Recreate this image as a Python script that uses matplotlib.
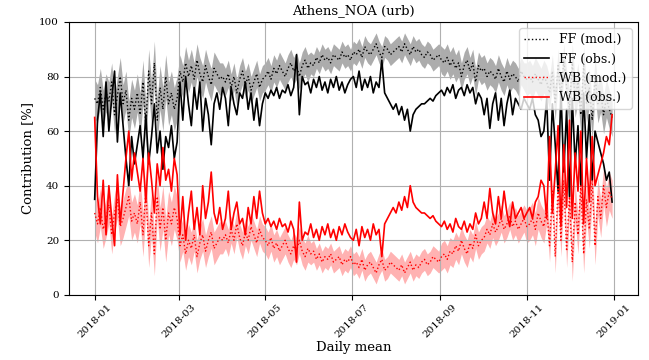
import matplotlib
matplotlib.use("Agg")
import matplotlib.pyplot as plt
import matplotlib.dates as mdates
import numpy as np
import pandas as pd

plt.rcParams['font.family'] = ['DejaVu Serif']

# values every second day, 2018-01-01 .. 2018-12-31
dates = pd.date_range('2018-01-01', periods=183, freq='2D')

ff_obs = np.array([
    # Jan
    35, 64, 74, 58, 78, 60, 72, 82, 56, 74, 62, 50, 40, 58, 48, 55,
    # Feb
    62, 50, 66, 48, 58, 70, 52, 60, 46, 58, 54, 62, 50, 56,
    # Mar
    78, 64, 80, 70, 62, 76, 68, 78, 60, 72, 66, 55, 70, 74, 68, 76,
    # Apr
    72, 62, 76, 70, 66, 74, 72, 78, 68, 74, 64, 72, 62, 70,
    # May
    74, 72, 75, 73, 76, 72, 75, 74, 77, 73, 76, 88, 66, 80, 77, 78,
    # Jun
    74, 79, 76, 80, 75, 78, 74, 79, 76, 80, 75, 78, 74, 77, 79,
    # Jul
    80, 76, 82, 75, 79, 76, 80, 74, 78, 76, 86, 74, 72, 70, 68,
    # Aug
    70, 66, 69, 64, 68, 60, 66, 68, 69, 70, 70, 71, 72, 71, 73, 74,
    # Sep
    75, 73, 76, 74, 77, 72, 75, 76, 73, 77, 74, 76, 70, 74, 72,
    # Oct
    66, 72, 61, 70, 74, 64, 72, 62, 70, 75, 66, 72, 70, 68, 72, 70,
    # Nov
    68, 72, 66, 64, 58, 60, 72, 42, 70, 55, 38, 75, 45, 68,
    # Dec
    36, 72, 48, 62, 40, 74, 50, 66, 42, 60, 56, 52, 48, 42, 45, 34,
])
wb_obs = 100 - ff_obs

ff_mod = np.array([
    # Jan
    72, 70, 76, 68, 74, 71, 78, 66, 73, 80, 70, 75, 64, 72, 68, 74,
    # Feb
    66, 78, 62, 82, 70, 85, 64, 76, 68, 80, 70, 74, 68, 72,
    # Mar
    82, 78, 85, 80, 84, 79, 86, 81, 78, 84, 80, 77, 83, 81, 79, 80,
    # Apr
    78, 81, 76, 80, 74, 79, 82, 77, 80, 75, 78, 81, 76, 79,
    # May
    80, 82, 79, 83, 81, 84, 82, 80, 83, 85, 82, 84, 80, 84, 86, 83,
    # Jun
    85, 84, 87, 85, 88, 86, 87, 85, 88, 87, 86, 89, 87, 88, 86,
    # Jul
    89, 88, 90, 87, 91, 89, 88, 90, 92, 89, 87, 91, 90, 88, 89,
    # Aug
    90, 91, 89, 92, 90, 88, 91, 89, 90, 88, 87, 89, 88, 86, 87, 88,
    # Sep
    86, 85, 87, 84, 86, 83, 85, 80, 84, 86, 82, 85, 78, 84, 82,
    # Oct
    83, 80, 82, 81, 79, 83, 80, 78, 82, 79, 81, 80, 78, 82, 80, 79,
    # Nov
    80, 78, 81, 79, 77, 80, 78, 74, 82, 70, 84, 72, 86, 76,
    # Dec
    68, 85, 72, 78, 66, 84, 70, 76, 64, 80, 70, 74, 66, 72, 68, 65,
])

wb_mod = np.array([
    # Jan
    30, 26, 32, 24, 28, 33, 22, 30, 35, 25, 28, 32, 36, 27, 30, 26,
    # Feb
    34, 22, 38, 18, 30, 15, 36, 24, 32, 20, 30, 26, 32, 28,
    # Mar
    18, 22, 15, 20, 17, 22, 14, 19, 22, 16, 20, 23, 17, 19, 21, 20,
    # Apr
    22, 19, 24, 20, 26, 21, 18, 23, 20, 25, 22, 19, 24, 21,
    # May
    20, 18, 21, 17, 19, 16, 18, 20, 17, 15, 18, 16, 20, 16, 14, 17,
    # Jun
    15, 16, 13, 15, 12, 14, 13, 15, 12, 13, 14, 11, 13, 12, 14,
    # Jul
    11, 12, 10, 13, 9, 11, 12, 10, 8, 11, 13, 9, 10, 12, 11,
    # Aug
    10, 9, 11, 8, 10, 12, 9, 11, 10, 12, 13, 11, 12, 14, 13, 12,
    # Sep
    14, 15, 13, 16, 15, 18, 16, 20, 17, 15, 19, 17, 22, 18, 20,
    # Oct
    21, 24, 22, 26, 23, 25, 28, 24, 26, 29, 25, 27, 24, 26, 28, 25,
    # Nov
    26, 28, 24, 30, 27, 25, 32, 18, 38, 14, 40, 20, 42, 16,
    # Dec
    36, 12, 34, 22, 40, 15, 35, 24, 42, 18, 36, 28, 40, 32, 38, 35,
])

# half width of the model uncertainty band, per month
band_by_month = np.array([7, 8, 6, 5, 5, 4, 4, 4, 5, 5, 6, 7])
band = band_by_month[dates.month - 1]

fig, ax = plt.subplots(figsize=(6.49, 3.6), dpi=100)
fig.subplots_adjust(left=0.106, right=0.983, bottom=0.181, top=0.939)

ax.fill_between(dates, ff_mod - band, ff_mod + band, color='grey', alpha=0.65, lw=0)
ax.fill_between(dates, wb_mod - band, wb_mod + band, color='red', alpha=0.3, lw=0)

ax.plot(dates, ff_mod, color='black', ls=':', lw=1, label='FF (mod.)')
ax.plot(dates, ff_obs, color='black', lw=1.2, label='FF (obs.)')
ax.plot(dates, wb_mod, color='red', ls=':', lw=1, label='WB (mod.)')
ax.plot(dates, wb_obs, color='red', lw=1.2, label='WB (obs.)')

ax.set_ylim(0, 100)
ax.xaxis.set_major_locator(mdates.MonthLocator(bymonth=[1, 3, 5, 7, 9, 11]))
ax.xaxis.set_major_formatter(mdates.DateFormatter('%Y-%m'))
plt.setp(ax.get_xticklabels(), rotation=45)
ax.tick_params(labelsize=7.5)
ax.tick_params(axis='x', pad=2)
ax.grid(True)

ax.set_title('Athens_NOA (urb)', fontsize=9.5)
ax.set_ylabel('Contribution [%]', fontsize=9.5)
ax.set_xlabel('Daily mean', fontsize=9.5, labelpad=1)
ax.legend(loc='upper right', fontsize=9)

fig.savefig('out.png')
